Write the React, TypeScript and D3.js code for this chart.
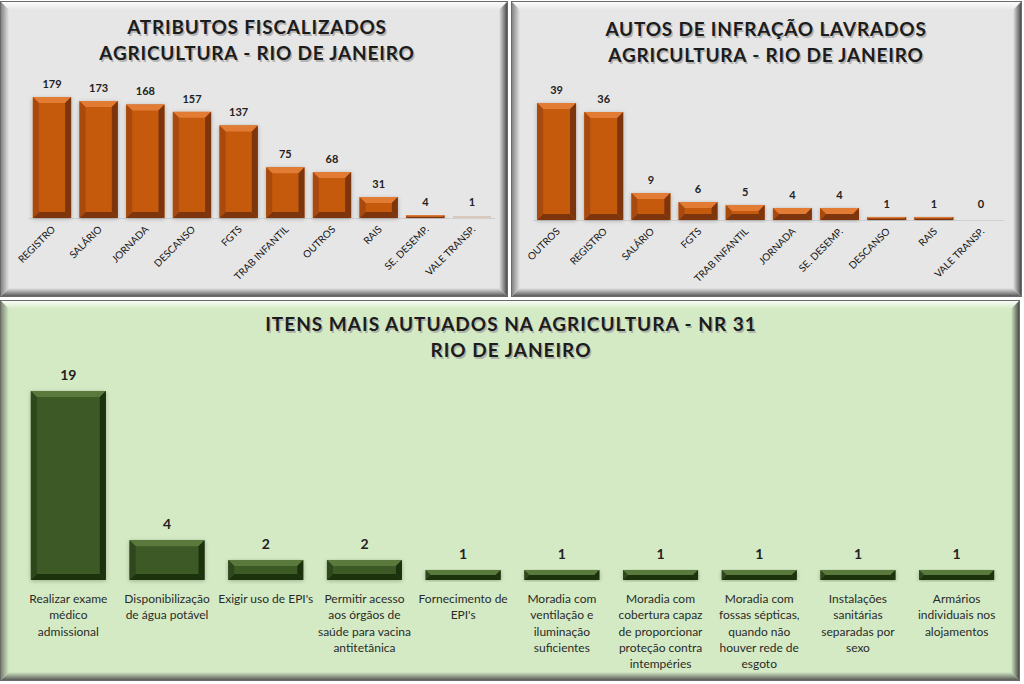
import React from "react";
import * as d3 from "d3";

const cat1 = ["REGISTRO", "SALÁRIO", "JORNADA", "DESCANSO", "FGTS", "TRAB INFANTIL", "OUTROS", "RAIS", "SE. DESEMP.", "VALE TRANSP."];
const val1 = [179, 173, 168, 157, 137, 75, 68, 31, 4, 1];

const cat2 = ["OUTROS", "REGISTRO", "SALÁRIO", "FGTS", "TRAB INFANTIL", "JORNADA", "SE. DESEMP.", "DESCANSO", "RAIS", "VALE TRANSP."];
const val2 = [39, 36, 9, 6, 5, 4, 4, 1, 1, 0];

const cat3 = [
  ["Realizar exame", "médico", "admissional"],
  ["Disponibilização", "de água potável"],
  ["Exigir uso de EPI's"],
  ["Permitir acesso", "aos órgãos de", "saúde para vacina", "antitetânica"],
  ["Fornecimento de", "EPI's"],
  ["Moradia com", "ventilação e", "iluminação", "suficientes"],
  ["Moradia com", "cobertura capaz", "de proporcionar", "proteção contra", "intempéries"],
  ["Moradia com", "fossas sépticas,", "quando não", "houver rede de", "esgoto"],
  ["Instalações", "sanitárias", "separadas por", "sexo"],
  ["Armários", "individuais nos", "alojamentos"],
];
const val3 = [19, 4, 2, 2, 1, 1, 1, 1, 1, 1];

const title1 = ["ATRIBUTOS FISCALIZADOS", "AGRICULTURA - RIO DE JANEIRO"];
const title2 = ["AUTOS DE INFRAÇÃO LAVRADOS", "AGRICULTURA - RIO DE JANEIRO"];
const title3 = ["ITENS MAIS AUTUADOS NA AGRICULTURA - NR 31", "RIO DE JANEIRO"];

const FONT = "Lato, 'Open Sans', sans-serif";

function Frame({ x, y, w, h, bg, id, dark }: any) {
  const b = 9;
  return (
    <g>
      <defs>
        <linearGradient id={id + "L"} x1="0" x2="1" y1="0" y2="0">
          <stop offset="0" stopColor={dark} />
          <stop offset="1" stopColor={bg} />
        </linearGradient>
        <linearGradient id={id + "R"} x1="1" x2="0" y1="0" y2="0">
          <stop offset="0" stopColor="#3a3a3a" />
          <stop offset="1" stopColor={bg} />
        </linearGradient>
        <linearGradient id={id + "T"} x1="0" x2="0" y1="0" y2="1">
          <stop offset="0" stopColor="#ffffff" />
          <stop offset="1" stopColor={bg} />
        </linearGradient>
        <linearGradient id={id + "B"} x1="0" x2="0" y1="1" y2="0">
          <stop offset="0" stopColor="#4a4a4a" />
          <stop offset="1" stopColor={bg} />
        </linearGradient>
      </defs>
      <rect x={x} y={y} width={w} height={h} fill={bg} />
      <polygon points={`${x},${y} ${x + w},${y} ${x + w - b},${y + b} ${x + b},${y + b}`} fill={`url(#${id}T)`} />
      <polygon points={`${x},${y + h} ${x + w},${y + h} ${x + w - b},${y + h - b} ${x + b},${y + h - b}`} fill={`url(#${id}B)`} />
      <polygon points={`${x},${y} ${x + b},${y + b} ${x + b},${y + h - b} ${x},${y + h}`} fill={`url(#${id}L)`} />
      <polygon points={`${x + w},${y} ${x + w - b},${y + b} ${x + w - b},${y + h - b} ${x + w},${y + h}`} fill={`url(#${id}R)`} />
      <rect x={x + 0.5} y={y + 0.5} width={w - 1} height={h - 1} fill="none" stroke="#6a6a6a" strokeWidth={1} />
    </g>
  );
}

function BevelBar({ x, y, w, h, base, light, dark, darker }: any) {
  if (h <= 0) return null;
  const b = Math.min(6, h / 2, w / 2);
  return (
    <g filter="url(#barShadow)">
      <rect x={x} y={y} width={w} height={h} fill={base} />
      <polygon points={`${x},${y} ${x + w},${y} ${x + w - b},${y + b} ${x + b},${y + b}`} fill={light} />
      <polygon points={`${x},${y + h} ${x + w},${y + h} ${x + w - b},${y + h - b} ${x + b},${y + h - b}`} fill={darker} />
      <polygon points={`${x},${y} ${x + b},${y + b} ${x + b},${y + h - b} ${x},${y + h}`} fill={dark} />
      <polygon points={`${x + w},${y} ${x + w - b},${y + b} ${x + w - b},${y + h - b} ${x + w},${y + h}`} fill={darker} />
    </g>
  );
}

function Title({ lines, cx, y0, dy, size, ls }: any) {
  return (
    <g fontFamily={FONT} fontWeight="bold" fontSize={size} textAnchor="middle" letterSpacing={ls}>
      {lines.map((t: string, i: number) => (
        <g key={i}>
          <text x={cx + 1.5} y={y0 + i * dy + 1.5} fill="#a0a0a0" opacity={0.7}>{t}</text>
          <text x={cx} y={y0 + i * dy} fill="#1c1c1c">{t}</text>
        </g>
      ))}
    </g>
  );
}

function OrangePanel({ cats, vals, xr, yr, title, titleX, titleY, pad }: any) {
  const x = d3.scaleBand<string>().domain(cats).range(xr).paddingInner(pad).paddingOuter(pad / 2);
  const y = d3.scaleLinear().domain([0, d3.max(vals) as number]).range(yr);
  const base = y(0);
  return (
    <g>
      <Title lines={title} cx={titleX} y0={titleY} dy={26} size={19} ls={0.8} />
      <line x1={xr[0]} x2={xr[1]} y1={base + 0.5} y2={base + 0.5} stroke="#d0d0d0" />
      {cats.map((c: string, i: number) => {
        const bx = x(c) as number;
        const v = vals[i];
        const top = y(v);
        const thin = base - top < 2;
        return (
          <g key={c}>
            {thin ? (
              v > 0 ? <rect x={bx} y={base - 2} width={x.bandwidth()} height={2} fill={v > 2 ? "#c55a11" : "#d8c8bc"} /> : null
            ) : (
              <BevelBar x={bx} y={top} w={x.bandwidth()} h={base - top} base="#c55a11" light="#e27b35" dark="#a8490c" darker="#7d3508" />
            )}
            <text x={bx + x.bandwidth() / 2} y={Math.min(top, base - 3) - 9} textAnchor="middle" fontFamily={FONT} fontWeight="bold" fontSize={11} fill="#222">{v}</text>
            <text transform={`translate(${bx + x.bandwidth() / 2 + 4},${base + 12}) rotate(-45)`} textAnchor="end" fontFamily={FONT} fontSize={10} fill="#151515">{c}</text>
          </g>
        );
      })}
    </g>
  );
}

function GreenPanel() {
  const x = d3.scaleBand<number>().domain(d3.range(val3.length)).range([19, 1006]).paddingInner(0.24).paddingOuter(0.12);
  const y = d3.scaleLinear().domain([0, 19]).range([580, 391]);
  const base = y(0);
  return (
    <g>
      <Title lines={title3} cx={511} y0={331} dy={26} size={19} ls={1} />
      {val3.map((v, i) => {
        const bx = x(i) as number;
        const top = y(v);
        const cx = bx + x.bandwidth() / 2;
        return (
          <g key={i}>
            <BevelBar x={bx} y={top} w={x.bandwidth()} h={base - top} base="#3c5a25" light="#5a7a3e" dark="#2d461b" darker="#1e3010" />
            <text x={cx} y={top - 11} textAnchor="middle" fontFamily={FONT} fontWeight="bold" fontSize={14} fill="#222">{v}</text>
            {cat3[i].map((ln, j) => (
              <text key={j} x={cx} y={603 + j * 16.3} textAnchor="middle" fontFamily={FONT} fontSize={12} fill="#2a2a2a">{ln}</text>
            ))}
          </g>
        );
      })}
    </g>
  );
}

export default function App() {
  return (
    <div style={{ position: "absolute", left: 0, top: 0 }}>
      <svg width={1024} height={684} style={{ display: "block" }}>
        <defs>
          <filter id="barShadow" x="-30%" y="-10%" width="160%" height="130%">
            <feDropShadow dx="0" dy="1" stdDeviation="2" floodColor="#000" floodOpacity="0.25" />
          </filter>
        </defs>
        <rect width={1024} height={684} fill="#ffffff" />
        <Frame id="p1" x={0} y={1} w={508} h={296} bg="#e6e6e6" dark="#7a7a7a" />
        <Frame id="p2" x={511} y={1} w={511} h={296} bg="#e6e6e6" dark="#7a7a7a" />
        <Frame id="p3" x={0} y={300} w={1020} h={381} bg="#d4eac4" dark="#6f7a68" />
        <OrangePanel cats={cat1} vals={val1} xr={[28.65, 495.35]} yr={[218, 97]} title={title1} titleX={257} titleY={34} pad={0.18} />
        <OrangePanel cats={cat2} vals={val2} xr={[533, 1004.6]} yr={[220, 103]} title={title2} titleX={766} titleY={36} pad={0.175} />
        <GreenPanel />
      </svg>
    </div>
  );
}
